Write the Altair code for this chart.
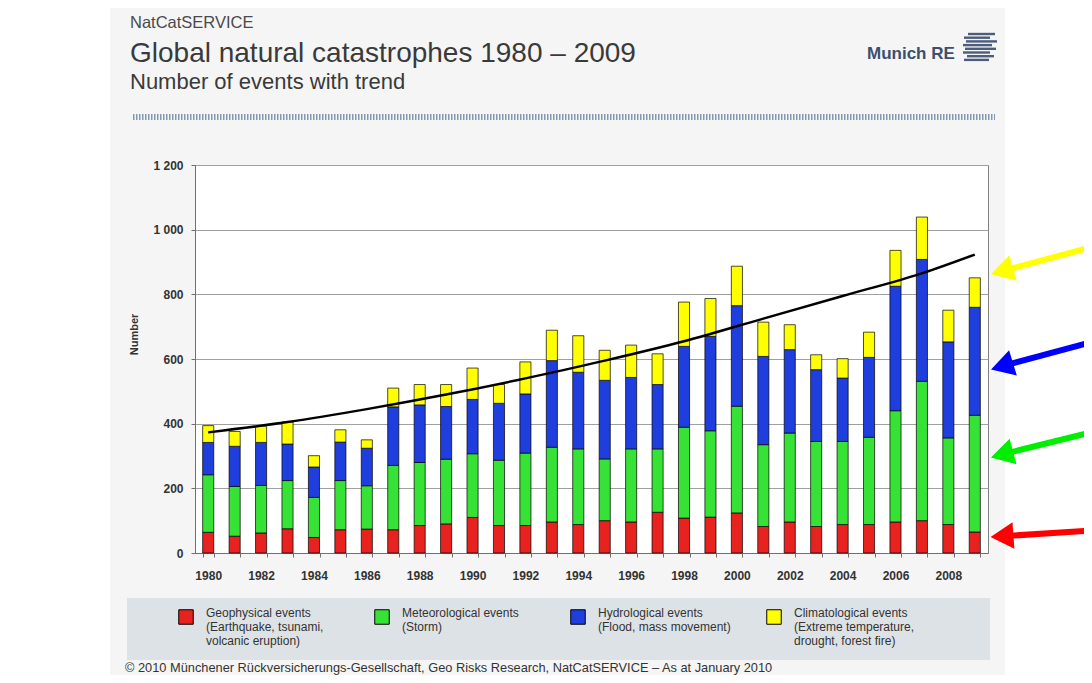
import altair as alt
import pandas as pd

# ---------------- data ----------------
years = list(range(1980, 2010))
categories = ["Geophysical", "Meteorological", "Hydrological", "Climatological"]
colors = ["#e8231f", "#36e236", "#1e3fde", "#ffff00"]

geophysical = [64, 52, 62, 75, 48, 72, 74, 72, 85, 90, 110, 85, 85, 96, 88,
               100, 96, 126, 108, 111, 124, 82, 96, 82, 88, 88, 96, 100, 88, 65]
meteorological = [178, 154, 147, 149, 124, 152, 134, 199, 195, 200, 197, 202, 224, 231, 234,
                  191, 226, 196, 281, 267, 330, 253, 275, 263, 257, 270, 344, 431, 268, 361]
hydrological = [100, 124, 133, 113, 94, 119, 116, 181, 178, 163, 168, 176, 183, 268, 237,
                243, 221, 199, 250, 292, 311, 273, 258, 222, 196, 247, 385, 377, 297, 334]
climatological = [52, 46, 50, 68, 35, 38, 26, 58, 63, 68, 97, 58, 99, 94, 113,
                  93, 100, 95, 137, 117, 122, 106, 77, 46, 60, 78, 111, 131, 98, 91]

trend_years = [1980, 1983, 1986, 1989, 1992, 1995, 1998, 2001, 2004, 2007, 2009]
trend_values = [373, 405, 445, 490, 540, 595, 655, 725, 795, 865, 923]

y_ticks = [0, 200, 400, 600, 800, 1000, 1200]

legend_lines = {
    "Geophysical": ["Geophysical events", "(Earthquake, tsunami,", "volcanic eruption)"],
    "Meteorological": ["Meteorological events", "(Storm)", " "],
    "Hydrological": ["Hydrological events", "(Flood, mass movement)", " "],
    "Climatological": ["Climatological events", "(Extreme temperature,", "drought, forest fire)"],
}

# arrows: (colour, tail value, tip value, head angle)
arrow_colors = ["#ffff00", "#0000ff", "#00ee00", "#ff0000"]
arrow_tail = [953, 659, 380, 71]
arrow_tip = [860, 566, 294, 49]
arrow_angle = [344, 343, 345, 356]

# ---------------- tables ----------------
series = [geophysical, meteorological, hydrological, climatological]
rows = []
for i, yr in enumerate(years):
    for k, cat in enumerate(categories):
        rows.append({"year": yr, "category": cat, "order": k, "value": series[k][i]})
df = pd.DataFrame(rows)
trend_df = pd.DataFrame({"year": trend_years, "value": trend_values})
frac = 0.874
arrow_df = pd.DataFrame({
    "color": arrow_colors,
    "tail": arrow_tail,
    "head": [t + frac * (p - t) for t, p in zip(arrow_tail, arrow_tip)],
    "angle": arrow_angle,
})
one = pd.DataFrame({"k": [0]})

FONT = "Liberation Sans"
NARROW = "Liberation Sans"
W, H = 793, 388

x_enc = alt.X(
    "year:O",
    scale=alt.Scale(paddingInner=0.58, paddingOuter=0.29),
    axis=alt.Axis(
        title=None, labelAngle=0, labelOverlap=False,
        labelExpr="datum.value % 2 == 0 ? datum.label : ''",
        tickBand="extent", tickSize=4, tickColor="#707070", domainColor="#707070",
        labelFont=FONT, labelFontWeight="bold", labelFontSize=12, labelColor="#333333",
        labelPadding=13, grid=False,
    ),
)
y_scale = alt.Scale(domain=[0, 1200], nice=False)
y_axis = alt.Axis(
    values=y_ticks, grid=True, gridColor="#a0a0a0", gridWidth=1,
    tickSize=4, tickColor="#707070", domainColor="#707070",
    labelFont=FONT, labelFontWeight="bold", labelFontSize=12, labelColor="#333333",
    labelPadding=8,
    labelExpr="datum.value >= 1000 ? floor(datum.value / 1000) + ' ' + format(datum.value % 1000, '03d') : format(datum.value, 'd')",
    title="Number", titleFont=FONT, titleFontWeight="bold", titleFontSize=11,
    titleColor="#333333", titleAngle=270, titleX=-61, titleY=169,
    titleAlign="center", titleBaseline="middle",
)

legend_expr = " : ".join(
    "datum.label == '%s' ? [%s]" % (c, ", ".join("'%s'" % s for s in legend_lines[c]))
    for c in categories
) + " : datum.label"

bars = alt.Chart(df).mark_bar(stroke="black", strokeWidth=0.7).encode(
    x=x_enc,
    y=alt.Y("value:Q", stack="zero", scale=y_scale, axis=y_axis),
    color=alt.Color(
        "category:N",
        scale=alt.Scale(domain=categories, range=colors),
        legend=alt.Legend(
            title=None, orient="none", legendX=-17, legendY=444,
            direction="horizontal", columns=4, gridAlign="all", columnPadding=33,
            symbolType="square", symbolSize=210, symbolStrokeColor="black",
            symbolStrokeWidth=1, symbolOpacity=1,
            labelExpr=legend_expr, labelFont=NARROW, labelFontSize=12,
            labelColor="#333333", labelOffset=12, labelBaseline="alphabetic",
            labelLimit=0,
        ),
    ),
    order=alt.Order("order:Q", sort="ascending"),
)

trend = alt.Chart(trend_df).mark_line(color="black", strokeWidth=2.5, interpolate="monotone").encode(
    x="year:O", y=alt.Y("value:Q", scale=y_scale)
)

shafts = alt.Chart(arrow_df).mark_rule(strokeWidth=6).encode(
    x=alt.value(905), x2=alt.value(807),
    y=alt.Y("tail:Q", scale=y_scale), y2="head:Q",
    color=alt.Color("color:N", scale=None),
)
heads = alt.Chart(arrow_df).mark_point(shape="triangle-left", filled=True, size=700, opacity=1).encode(
    x=alt.value(807), y=alt.Y("head:Q", scale=y_scale),
    color=alt.Color("color:N", scale=None),
    angle=alt.Angle("angle:Q", scale=None),
)


def rect(x1, x2, y1, y2, fill):
    return alt.Chart(one).mark_rect(fill=fill).encode(
        x=alt.value(x1), x2=alt.value(x2), y=alt.value(y1), y2=alt.value(y2))


def text(t, x, y, size, color="#3a3a3a", weight="normal", font=FONT):
    return alt.Chart(one).mark_text(
        text=t, align="left", baseline="alphabetic", font=font,
        fontSize=size, fontWeight=weight, color=color,
    ).encode(x=alt.value(x), y=alt.value(y))


white_left = rect(-190, -85, -160, 515, "white")
white_right = rect(810, 895, -160, 515, "white")
legend_box = rect(-68, 795, 433, 495, "#dde2e6")

t1 = text("NatCatSERVICE", -65, -137, 16.5, "#4a4a4a")
t2 = text("Global natural catastrophes 1980 \u2013 2009", -65, -103, 28, "#3a3a3a")
t3 = text("Number of events with trend", -65, -76, 22, "#3a3a3a")
hatch = alt.Chart(one).mark_rule(color="#8597b3", strokeWidth=6, strokeDash=[1.5, 1.5]).encode(
    x=alt.value(-62), x2=alt.value(800), y=alt.value(-48))
logo_text = text("Munich RE", 672, -106, 17, "#3d4f6e", "bold")

logo_rules = []
starts = [773, 769, 771, 768, 770, 768, 772, 769]
ends = [800, 795, 802, 797, 801, 795, 799, 794]
for i, (a, b) in enumerate(zip(starts, ends)):
    logo_rules.append(alt.Chart(one).mark_rule(color="#4c5d7c", strokeWidth=2.4).encode(
        x=alt.value(a), x2=alt.value(b), y=alt.value(-131 + 3.7 * i)))

footer = text("\u00a9 2010 M\u00fcnchener R\u00fcckversicherungs-Gesellschaft, Geo Risks Research, NatCatSERVICE  \u2013  As at January 2010",
              -70, 507, 12.8, "#333333", font=NARROW)

chart = alt.layer(
    white_left, white_right, legend_box, t1, t2, t3, hatch, logo_text, *logo_rules, footer,
    bars, trend, shafts, heads,
).properties(
    width=W, height=H,
    padding={"left": 187, "top": 157, "right": 96, "bottom": 122},
    autosize=alt.AutoSizeParams(type="none"),
).configure(background="#f5f5f5").configure_view(fill="white", stroke="#808080", strokeWidth=1)

chart.save("out.html", embed_options={"renderer": "svg", "actions": False})
